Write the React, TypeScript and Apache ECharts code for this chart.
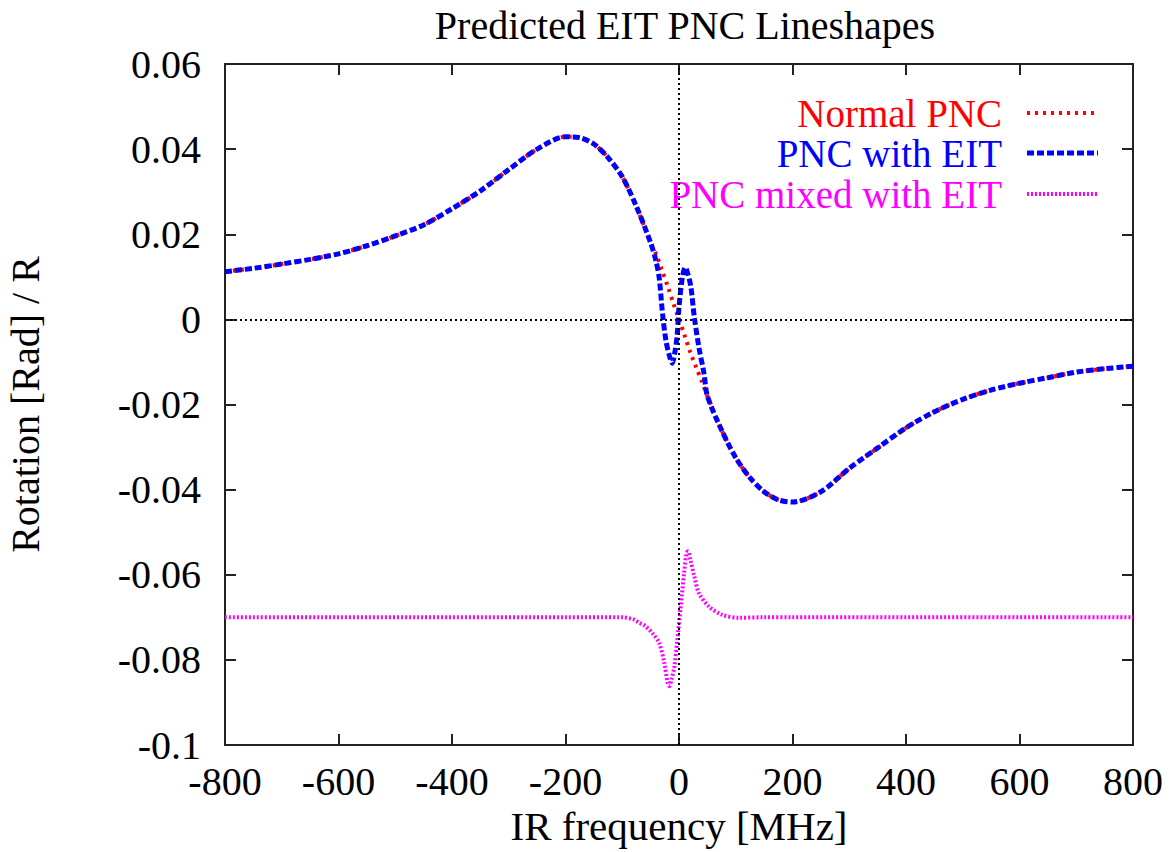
import React, { useEffect, useRef } from "react";
import * as echarts from "echarts";

const titleText = "Predicted EIT PNC Lineshapes";
const xName = "IR frequency [MHz]";
const yName = "Rotation [Rad] / R";
const seriesNames = ["Normal PNC", "PNC with EIT", "PNC mixed with EIT"];
const seriesColors = ["#ff0000", "#0000ff", "#ff00ff"];

// Normal PNC
const normalX = [-800, -750, -700, -650, -600, -550, -500, -450, -400, -350, -300, -250, -200, -175, -150, -125, -100, -75, -50, -40, -30, -20, -10, 0, 10, 20, 30, 40, 50, 75, 100, 125, 150, 175, 200, 250, 300, 350, 400, 450, 500, 550, 600, 650, 700, 750, 800];
const normalY = [0.0112, 0.012, 0.013, 0.0141, 0.0154, 0.0173, 0.0196, 0.0222, 0.026, 0.0302, 0.0352, 0.04, 0.0429, 0.0427, 0.0412, 0.038, 0.0335, 0.0265, 0.018, 0.0152, 0.0115, 0.0078, 0.0038, 0, -0.0038, -0.0078, -0.0112, -0.0145, -0.018, -0.026, -0.0325, -0.0372, -0.0405, -0.0424, -0.0429, -0.0405, -0.035, -0.0302, -0.0255, -0.0217, -0.0188, -0.0166, -0.015, -0.0137, -0.0124, -0.0116, -0.011];

// PNC with EIT
const eitX = [-800, -750, -700, -650, -600, -550, -500, -450, -400, -350, -300, -250, -200, -175, -150, -125, -100, -75, -50, -41, -35, -29, -23, -17, -12, -7, -3, 0, 6, 11, 16, 21, 27, 35, 44, 50, 75, 100, 125, 150, 175, 200, 250, 300, 350, 400, 450, 500, 550, 600, 650, 700, 750, 800];
const eitY = [0.0112, 0.012, 0.013, 0.0141, 0.0154, 0.0173, 0.0196, 0.0222, 0.026, 0.0302, 0.0352, 0.04, 0.0429, 0.0427, 0.0412, 0.038, 0.0335, 0.0265, 0.018, 0.014, 0.0099, 0.0013, -0.005, -0.0085, -0.0103, -0.0075, -0.0034, 0.0029, 0.0099, 0.0122, 0.0105, 0.0076, 0.0005, -0.0065, -0.0127, -0.018, -0.026, -0.0325, -0.0372, -0.0405, -0.0424, -0.0429, -0.0405, -0.035, -0.0302, -0.0255, -0.0217, -0.0188, -0.0166, -0.015, -0.0137, -0.0124, -0.0116, -0.011];

// PNC mixed with EIT
const mixX = [-800, -600, -400, -200, -100, -80, -70, -60, -47, -35, -26, -20, -17, -13, -8, -3, 3, 9, 13, 16, 20, 27, 35, 53, 76, 106, 150, 200, 400, 600, 800];
const mixY = [-0.07, -0.07, -0.07, -0.07, -0.07, -0.0705, -0.0713, -0.072, -0.0737, -0.076, -0.0807, -0.0854, -0.0862, -0.0845, -0.0815, -0.0753, -0.0675, -0.0596, -0.055, -0.0545, -0.0565, -0.0604, -0.0643, -0.0675, -0.0694, -0.0701, -0.07, -0.07, -0.07, -0.07, -0.07];

const xMin = -800;
const xMax = 800;
const xInterval = 200;
const yMin = -0.1;
const yMax = 0.06;
const yInterval = 0.02;

const FONT = "'Liberation Serif', 'Times New Roman', serif";

function pairs(xs: number[], ys: number[]) {
  return xs.map((x, i) => [x, ys[i]]);
}

export default function App() {
  const ref = useRef<HTMLDivElement>(null);
  useEffect(() => {
    if (!ref.current) return;
    const chart = echarts.init(ref.current, null, { renderer: "svg" });
    const axisLine = { onZero: false, lineStyle: { color: "#222", width: 2 } };
    const tick = { inside: true, length: 11, lineStyle: { color: "#222", width: 2 } };
    const lineDashes: number[][] = [[3, 5], [7, 3], [2, 2]];
    const widths = [4, 5, 4];
    const legendY = [113, 153, 194];
    const legendGraphics: any[] = [];
    seriesNames.forEach((n, i) => {
      legendGraphics.push({
        type: "text",
        x: 1002,
        y: legendY[i],
        style: {
          text: n,
          fill: seriesColors[i],
          font: `39px ${FONT}`,
          textAlign: "right",
          textVerticalAlign: "middle",
        },
      });
      legendGraphics.push({
        type: "line",
        shape: { x1: 1027, y1: legendY[i], x2: 1098, y2: legendY[i] },
        style: { stroke: seriesColors[i], lineWidth: widths[i], lineDash: lineDashes[i] },
      });
    });
    const data = [pairs(normalX, normalY), pairs(eitX, eitY), pairs(mixX, mixY)];
    chart.setOption({
      animation: false,
      backgroundColor: "#fff",
      title: {
        text: titleText,
        left: 680,
        top: 0,
        textAlign: "center",
        textStyle: { fontFamily: FONT, fontSize: 40, fontWeight: "normal", color: "#000" },
      },
      grid: { left: 225, right: 38, top: 64, bottom: 107, outerBoundsMode: "none", containLabel: false },
      xAxis: [
        {
          type: "value",
          min: xMin,
          max: xMax,
          interval: xInterval,
          position: "bottom",
          name: xName,
          nameLocation: "middle",
          nameGap: 60,
          nameTextStyle: { fontFamily: FONT, fontSize: 41, color: "#000" },
          axisLine,
          axisTick: tick,
          axisLabel: { fontFamily: FONT, fontSize: 40, color: "#000", margin: 16 },
          splitLine: { show: false },
        },
        {
          type: "value",
          min: xMin,
          max: xMax,
          interval: xInterval,
          position: "top",
          axisLine,
          axisTick: tick,
          axisLabel: { show: false },
          splitLine: { show: false },
        },
      ],
      yAxis: [
        {
          type: "value",
          min: yMin,
          max: yMax,
          interval: yInterval,
          position: "left",
          name: yName,
          nameLocation: "middle",
          nameGap: 180,
          nameTextStyle: { fontFamily: FONT, fontSize: 40, color: "#000" },
          axisLine,
          axisTick: tick,
          axisLabel: { fontFamily: FONT, fontSize: 40, color: "#000", margin: 24 },
          splitLine: { show: false },
        },
        {
          type: "value",
          min: yMin,
          max: yMax,
          interval: yInterval,
          position: "right",
          axisLine,
          axisTick: tick,
          axisLabel: { show: false },
          splitLine: { show: false },
        },
      ],
      series: seriesNames.map((n, i) => ({
        name: n,
        type: "line",
        data: data[i],
        showSymbol: false,
        symbol: "none",
        smooth: 0.3,
        z: 2 + i,
        lineStyle: { color: seriesColors[i], width: widths[i], type: lineDashes[i] },
        markLine:
          i === 0
            ? {
                silent: true,
                symbol: "none",
                label: { show: false },
                lineStyle: { color: "#000", width: 2, type: [2, 3] },
                data: [{ yAxis: 0 }, { xAxis: 0 }],
              }
            : undefined,
      })),
      graphic: legendGraphics,
    });
    return () => chart.dispose();
  }, []);
  return (
    <div
      ref={ref}
      style={{ position: "absolute", left: 0, top: 0, width: 1171, height: 852 }}
    />
  );
}
